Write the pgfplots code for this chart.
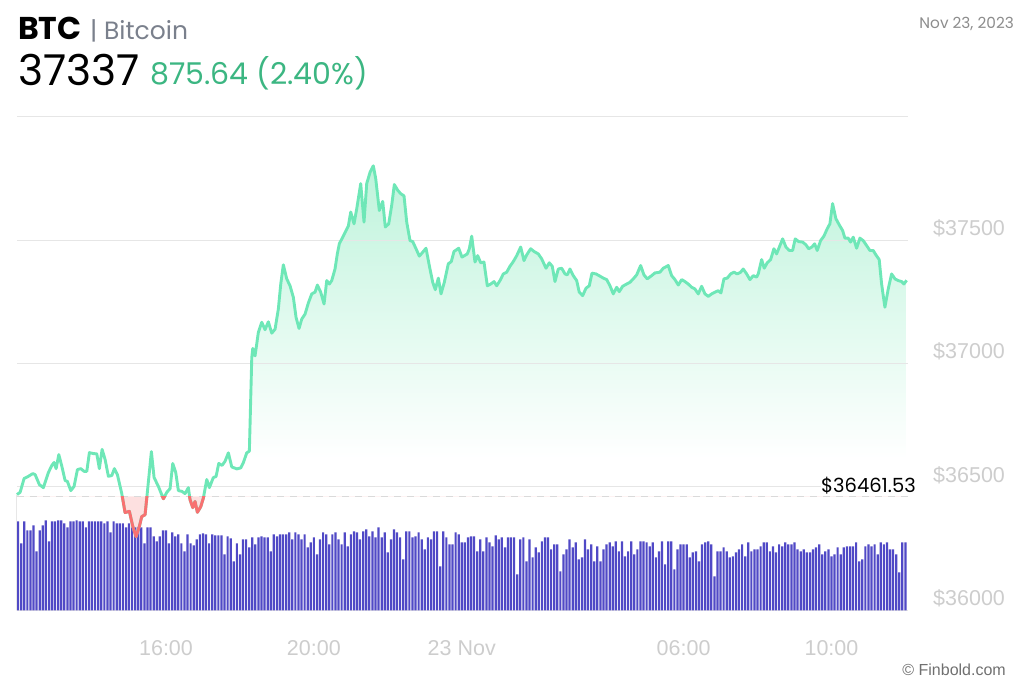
\documentclass[border=0pt]{standalone}
\usepackage{pgfplots}
\pgfplotsset{compat=1.18}
\usepackage{pgfplotstable}
\usepgfplotslibrary{fillbetween}
\usepackage{fontspec}
\setmainfont{Poppins}
\newfontfamily\lib{Liberation Sans}

\definecolor{linegreen}{RGB}{110,231,183}
\definecolor{txtgreen}{RGB}{60,182,130}
\definecolor{redline}{RGB}{248,113,113}
\definecolor{redfill}{RGB}{253,218,218}
\definecolor{volblue}{RGB}{80,73,198}
\definecolor{gridgray}{RGB}{230,230,230}
\definecolor{dashgray}{RGB}{218,218,218}
\definecolor{tickgray}{RGB}{205,205,205}
\definecolor{subgray}{RGB}{122,128,140}
\definecolor{dategray}{RGB}{140,140,140}
\definecolor{copygray}{RGB}{112,112,112}
\definecolor{areatop}{RGB}{190,243,219}
\definecolor{areamid}{RGB}{220,249,236}

\pgfdeclareverticalshading{areashade}{100bp}{color(0bp)=(white); color(25bp)=(white); color(42bp)=(white); color(60bp)=(areamid); color(75bp)=(areatop); color(100bp)=(areatop)}

\pgfplotstableread{
h p
-0.03 36469
0.054 36478
0.162 36534
0.279 36543
0.398 36554
0.460 36550
0.576 36509
0.684 36497
0.819 36558
0.911 36587
0.973 36599
1.028 36574
1.101 36631
1.182 36584
1.271 36526
1.333 36522
1.425 36485
1.514 36502
1.604 36570
1.695 36574
1.785 36563
1.858 36563
1.928 36639
2.036 36635
2.128 36634
2.198 36574
2.272 36652
2.353 36611
2.442 36543
2.534 36546
2.604 36574
2.685 36550
2.804 36473
2.893 36396
3.010 36401
3.102 36340
3.191 36298
3.280 36340
3.345 36380
3.434 36387
3.480 36455
3.605 36643
3.678 36538
3.794 36502
3.929 36452
4.021 36478
4.110 36493
4.183 36595
4.264 36558
4.335 36485
4.427 36482
4.516 36473
4.605 36497
4.651 36448
4.724 36416
4.786 36441
4.849 36397
4.941 36420
5.011 36455
5.103 36530
5.173 36497
5.281 36538
5.354 36542
5.427 36595
5.516 36587
5.598 36604
5.687 36638
5.779 36581
5.914 36573
6.022 36577
6.092 36598
6.184 36638
6.255 36645
6.320 37024
6.347 37061
6.409 37031
6.498 37126
6.590 37167
6.679 37137
6.768 37169
6.860 37123
6.950 37139
7.039 37221
7.104 37322
7.174 37400
7.266 37343
7.355 37315
7.445 37268
7.518 37187
7.599 37142
7.672 37180
7.761 37200
7.850 37245
7.942 37282
8.031 37289
8.094 37318
8.185 37289
8.275 37241
8.348 37336
8.418 37322
8.483 37336
8.572 37383
8.634 37444
8.688 37485
8.780 37512
8.870 37539
8.932 37557
8.997 37614
9.086 37566
9.159 37627
9.267 37729
9.356 37573
9.429 37729
9.518 37774
9.608 37801
9.673 37749
9.770 37620
9.862 37657
9.932 37553
10.024 37566
10.105 37641
10.176 37725
10.268 37702
10.349 37688
10.438 37679
10.511 37573
10.600 37498
10.673 37494
10.763 37465
10.852 37435
10.944 37451
11.033 37467
11.122 37397
11.214 37329
11.284 37299
11.366 37346
11.439 37282
11.528 37329
11.636 37404
11.717 37413
11.790 37454
11.917 37467
12.006 37431
12.150 37444
12.204 37465
12.269 37516
12.358 37411
12.431 37437
12.512 37408
12.601 37411
12.691 37315
12.783 37322
12.872 37332
12.945 37315
13.034 37336
13.123 37363
13.215 37370
13.304 37394
13.394 37413
13.486 37437
13.594 37472
13.683 37417
13.756 37440
13.864 37465
13.954 37454
14.070 37444
14.162 37424
14.278 37386
14.367 37408
14.448 37394
14.521 37332
14.611 37383
14.703 37386
14.792 37363
14.854 37359
14.927 37383
15.016 37356
15.108 37336
15.178 37289
15.270 37275
15.360 37305
15.449 37315
15.522 37366
15.630 37363
15.738 37354
15.828 37346
15.919 37340
16.009 37315
16.098 37282
16.190 37309
16.260 37291
16.352 37313
16.460 37322
16.549 37329
16.639 37343
16.730 37359
16.839 37397
16.928 37359
17.017 37343
17.136 37356
17.225 37367
17.360 37370
17.450 37386
17.585 37397
17.677 37356
17.766 37340
17.856 37318
17.948 37340
18.037 37332
18.126 37322
18.218 37309
18.307 37302
18.397 37282
18.488 37313
18.578 37282
18.667 37272
18.759 37282
18.848 37289
18.937 37295
19.010 37286
19.091 37343
19.181 37346
19.273 37363
19.362 37370
19.451 37363
19.543 37370
19.613 37383
19.705 37363
19.795 37340
19.884 37356
19.976 37350
20.019 37363
20.111 37421
20.181 37386
20.262 37408
20.354 37421
20.443 37465
20.516 37444
20.606 37478
20.679 37505
20.768 37472
20.857 37458
20.949 37458
21.019 37505
21.111 37494
21.220 37492
21.309 37481
21.382 37465
21.471 37472
21.544 37485
21.614 37458
21.706 37498
21.795 37516
21.885 37546
21.957 37566
22.030 37648
22.119 37587
22.209 37562
22.301 37539
22.363 37508
22.452 37508
22.517 37492
22.588 37512
22.680 37467
22.769 37508
22.858 37498
22.950 37478
23.039 37458
23.128 37458
23.202 37440
23.291 37421
23.356 37322
23.445 37228
23.535 37302
23.626 37363
23.716 37343
23.805 37336
23.897 37332
23.959 37322
24.032 37337
}\pricetable

\pgfplotstableread{
v
89
67
89
80
80
85
59
80
85
90
69
89
89
90
90
87
83
89
89
90
89
89
83
89
89
89
89
89
87
89
78
89
87
87
87
83
87
83
83
83
83
67
83
83
74
69
74
80
80
67
78
74
76
67
59
76
67
65
71
76
77
76
67
76
75
75
75
56
74
72
49
67
56
71
71
63
73
66
73
74
73
73
59
76
74
76
76
76
78
71
78
76
71
76
63
68
73
56
71
78
76
66
76
78
71
66
78
64
76
79
78
71
79
81
74
79
73
83
73
78
58
71
81
78
73
51
79
79
73
74
78
71
61
73
71
79
79
44
79
73
66
66
78
76
68
68
73
74
74
59
71
59
73
68
64
75
71
73
63
73
73
73
36
71
73
49
71
53
63
58
69
73
73
61
66
66
39
56
61
71
63
68
51
53
71
61
66
49
64
49
61
66
68
64
69
59
69
54
59
69
56
61
69
69
68
64
68
53
59
69
46
69
69
41
61
66
66
66
53
58
59
49
66
68
69
66
34
59
59
63
59
53
54
58
61
66
54
68
59
61
61
64
68
68
59
64
58
66
64
68
66
66
68
61
59
61
58
58
61
63
66
56
59
61
54
56
63
56
63
64
64
64
68
49
51
64
66
64
66
56
68
66
68
61
61
56
38
68
68
}\voltable

\pgfplotsset{
  base/.style={scale only axis, width=891pt, height=493.6pt,
    xmin=-0.03, xmax=24.07, ymin=36000, ymax=38000, scaled y ticks=false},
}

\begin{document}
\begin{tikzpicture}
% axis A2: shaded area under the price line
\begin{axis}[base, hide axis]
\addplot[draw=none, name path=price] table[x=h,y=p]{\pricetable};
\addplot[draw=none, name path=bot] coordinates {(-0.03,36000) (24.032,36000)};
\addplot[draw=none, shade, shading=areashade] fill between[of=price and bot];
% cover the rendering seam on the two closing edges of the shaded area
\addplot[draw=white, line width=1.6pt] coordinates {(24.032,36000) (24.032,37337)};
\addplot[draw=white, line width=1.6pt] coordinates {(-0.03,36000) (-0.03,36469)};
\end{axis}
% axis A: grid and ticks
\begin{axis}[base,
  axis line style={draw=none}, major tick length=0pt,
  ymajorgrids, grid style={draw=gridgray, line width=1pt},
  xtick={4,8,12,18,22},
  xticklabels={16:00,20:00,23 Nov,06:00,10:00},
  ytick={36000,36500,37000,37500,38000},
  yticklabels={\$36000,\$36500,\$37000,\$37500,},
  yticklabel pos=right,
  ticklabel style={font=\lib\fontsize{21.5}{22}\selectfont, text=tickgray, inner sep=0pt},
  xticklabel style={yshift=-30pt},
  yticklabel style={anchor=west, xshift=25pt, yshift=12pt},
]
\addplot[draw=none] coordinates {(0,37000)};
\end{axis}
% axis B: volume bars
\begin{axis}[scale only axis, width=891pt, height=493.6pt,
  xmin=-0.03, xmax=24.07, ymin=0, ymax=493.6, hide axis]
\addplot[ybar, bar width=2.2pt, fill=volblue, draw=none] table[x expr=\coordindex/12, y=v]{\voltable};
\end{axis}
% axis C: baseline and price line
\begin{axis}[base, hide axis, clip=false]
\addplot[draw=dashgray, line width=1pt, dash pattern=on 7pt off 6pt] coordinates {(-0.03,36461.53) (24.07,36461.53)};
\addplot[draw=linegreen, line width=2.9pt, line join=round] table[x=h,y=p]{\pricetable};
\node[anchor=base east, inner sep=0pt, fill=white, font=\fontsize{19.5}{20}\selectfont, xshift=8pt, yshift=4pt] at (axis cs:24.07,36461.53) {\$36461.53};
\end{axis}
% axis D: part below the opening price, clipped
\begin{axis}[scale only axis, width=891pt, height=113.9pt,
  xmin=-0.03, xmax=24.07, ymin=36000, ymax=36461.53, hide axis]
\addplot[draw=none, name path=priceD] table[x=h,y=p]{\pricetable};
\addplot[draw=none, name path=baseD] coordinates {(-0.03,36461.53) (24.07,36461.53)};
\addplot[fill=redfill, fill opacity=0.85, draw=none] fill between[of=priceD and baseD];
\addplot[draw=redline, line width=2.9pt, line join=round] table[x=h,y=p]{\pricetable};
\end{axis}
% header
\node[anchor=base west, inner sep=0pt, font=\bfseries\fontsize{31.5}{33}\selectfont] at (1pt,570.3pt) {BTC};
\node[anchor=base west, inner sep=0pt, text=subgray, font=\fontsize{25}{27}\selectfont] at (73pt,570.3pt) {| Bitcoin};
\node[anchor=base west, inner sep=0pt, font=\fontsize{42.5}{46}\selectfont] at (1pt,524.3pt) {37337};
\node[anchor=base west, inner sep=0pt, text=txtgreen, font=\fontsize{30}{32}\selectfont] at (133pt,525.3pt) {875.64 (2.40\%)};
\node[anchor=base east, inner sep=0pt, text=dategray, font=\fontsize{15.3}{16}\selectfont] at (997pt,581.3pt) {Nov 23, 2023};
\node[anchor=base east, inner sep=0pt, text=copygray, font=\lib\fontsize{16}{17}\selectfont] at (989pt,-64.7pt) {© Finbold.com};
\pgfresetboundingbox
\path[use as bounding box] (-17pt,-72.7pt) rectangle (1007pt,610.3pt);
\end{tikzpicture}
\end{document}
